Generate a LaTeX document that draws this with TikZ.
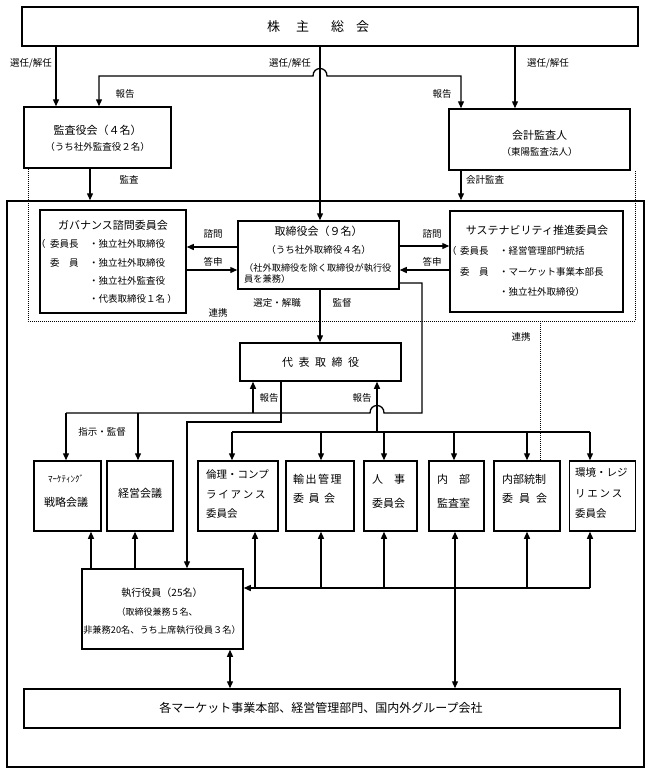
\documentclass[tikz,border=0pt]{standalone}
\usepackage{fontspec}
\setmainfont{Noto Sans CJK JP}
\usetikzlibrary{arrows.meta}
\begin{document}
\begin{tikzpicture}[x=1pt,y=-1pt,
  box/.style={draw, line width=1.5pt, inner sep=0pt},
  ln/.style={line width=1.3pt},
  arr/.style={ln, -{Triangle[length=7pt,width=6pt]}},
  darr/.style={ln, {Triangle[length=7pt,width=6pt]}-{Triangle[length=7pt,width=6pt]}},
  dline/.style={line width=1pt, dash pattern=on 1pt off 1pt},
  fs/.style={inner sep=0pt, font=\fontsize{#1}{#1}\selectfont},
  wfs/.style={fs=#1, anchor=west}
]
\useasboundingbox (0,0) rectangle (648,774);

% boxes
\node[box, minimum width=637pt, minimum height=566pt] (outer) at (325.5,484) {};
\node[box, minimum width=616pt, minimum height=39pt] (top) at (330,26.5) {};
\node[box, minimum width=147pt, minimum height=61pt] (kansa) at (97.5,137.5) {};
\node[box, minimum width=181pt, minimum height=61pt] (kaikei) at (539.5,139.5) {};
\node[box, minimum width=146pt, minimum height=103pt] (gov) at (113,261.5) {};
\node[box, minimum width=161pt, minimum height=68pt] (board) at (318.5,255) {};
\node[box, minimum width=173pt, minimum height=101pt] (sus) at (536.5,261.5) {};
\node[box, minimum width=161pt, minimum height=38pt] (daihyo) at (320.5,362) {};
\node[box, minimum width=67pt, minimum height=70pt] (mkt) at (67.5,496) {};
\node[box, minimum width=66pt, minimum height=70pt] (keiei) at (140,496) {};
\node[box, minimum width=80pt, minimum height=70pt] (rinri) at (238,496) {};
\node[box, minimum width=68pt, minimum height=70pt] (yushutsu) at (320,496) {};
\node[box, minimum width=53pt, minimum height=70pt] (jinji) at (390.5,496) {};
\node[box, minimum width=55pt, minimum height=70pt] (naibu) at (456.5,496) {};
\node[box, minimum width=66pt, minimum height=70pt] (tousei) at (527,496) {};
\node[box, minimum width=66pt, minimum height=70pt] (kankyo) at (602.5,496) {};
\node[box, minimum width=161pt, minimum height=80pt] (shikko) at (162.5,609) {};
\node[box, minimum width=596pt, minimum height=39pt] (bottom) at (322,708.5) {};

% box texts
\node[wfs=13] (toptxt) at (267,27) {株\kern16pt 主\kern22pt 総\kern12pt 会};
\node[fs=11] (kansa1) at (97.5,130) {監査役会（４名）};
\node[fs=9.5] (kansa2) at (97.5,147) {（うち社外監査役２名）};
\node[fs=11] (kaikei1) at (539.5,135) {会計監査人};
\node[fs=9.5] (kaikei2) at (539.5,152) {（東陽監査法人）};

\node[fs=11] (gov0) at (113,225) {ガバナンス諮問委員会};
\node[wfs=9.5] (gov1a) at (36,244) {（};
\node[wfs=9.5] (gov1b) at (50,244) {委員長};
\node[wfs=9.5] (gov1c) at (89,244) {・独立社外取締役};
\node[wfs=9.5] (gov2b) at (50,263) {委　員};
\node[wfs=9.5] (gov2c) at (89,263) {・独立社外取締役};
\node[wfs=9.5] (gov3c) at (89,281) {・独立社外監査役};
\node[wfs=9.5] (gov4c) at (89,299) {・代表取締役１名 ）};

\node[fs=11] (board0) at (318.5,231) {取締役会（９名）};
\node[fs=9.5] (board1) at (318.5,250) {（うち社外取締役４名）};
\node[wfs=9.2] (board2) at (244,268) {（社外取締役を除く取締役が執行役};
\node[wfs=9.2] (board3) at (244,279) {員を兼務）};

\node[fs=11] (sus0) at (537,230) {サステナビリティ推進委員会};
\node[wfs=9.5] (sus1a) at (447,251) {（};
\node[wfs=9.5] (sus1b) at (460,251) {委員長};
\node[wfs=9.5] (sus1c) at (499,251) {・経営管理部門統括};
\node[wfs=9.5] (sus2b) at (460,272) {委　員};
\node[wfs=9.5] (sus2c) at (499,272) {・マーケット事業本部長};
\node[wfs=9.5] (sus3c) at (499,292) {・独立社外取締役）};

\node[fs=11] (daihyotxt) at (320.5,362) {代\kern5.5pt 表\kern5.5pt 取\kern5.5pt 締\kern5.5pt 役};

\node[fs=9] (mkt1) at (66,479) {ﾏｰｹﾃｨﾝｸﾞ};
\node[fs=11] (mkt2) at (66,502) {戦略会議};
\node[fs=11] (keiei1) at (140,493) {経営会議};
\node[wfs=10.5] (rinri1) at (206,475) {倫理・コンプ};
\node[wfs=10.5] (rinri2) at (206,495) {ラ\,イ\,ア\,ン\,ス};
\node[wfs=10.5] (rinri3) at (206,514) {委員会};
\node[wfs=11] (yu1) at (293,479) {輸\kern1.5pt 出\kern1.5pt 管\kern1.5pt 理};
\node[wfs=11] (yu2) at (293,498) {委\kern4.5pt 員\kern4.5pt 会};
\node[wfs=11] (ji1) at (372,479) {人　事};
\node[wfs=11] (ji2) at (372,503) {委員会};
\node[wfs=11] (na1) at (437,479) {内　部};
\node[wfs=11] (na2) at (437,503) {監査室};
\node[wfs=11] (to1) at (502,479) {内部統制};
\node[wfs=11] (to2) at (502,498) {委\kern6pt 員\kern6pt 会};
\node[wfs=10.5] (ka1) at (575,473) {環境・レジ};
\node[wfs=10.5] (ka2) at (575,494) {リ\,エ\,ン\,ス};
\node[wfs=10.5] (ka3) at (575,514) {委員会};

\node[fs=10] (sh1) at (162,593) {執行役員（25名）};
\node[fs=9] (sh2) at (157,612) {（取締役兼務５名、};
\node[fs=9.2] (sh3) at (162,630) {非兼務20名、うち上席執行役員３名）};
\node[fs=12] (bottomtxt) at (321,708) {各マーケット事業本部、経営管理部門、国内外グループ会社};

% labels
\node[fs=9.5] (l1) at (31,63) {選任/解任};
\node[fs=9.5] (l2) at (290,63) {選任/解任};
\node[fs=9.5] (l3) at (548,63) {選任/解任};
\node[fs=9.5] (l4) at (125,94) {報告};
\node[fs=9.5] (l5) at (442,94) {報告};
\node[fs=9.5] (l6) at (129,180) {監査};
\node[fs=9.5] (l7) at (485,180) {会計監査};
\node[fs=9.5] (l8) at (213,234) {諮問};
\node[fs=9.5] (l9) at (213,262) {答申};
\node[fs=9.5] (l10) at (432,234) {諮問};
\node[fs=9.5] (l11) at (432,262) {答申};
\node[fs=9.5] (l12) at (277,303) {選定・解職};
\node[fs=9.5] (l13) at (342,303) {監督};
\node[fs=9.5] (l14) at (218,313) {連携};
\node[fs=9.5] (l15) at (521,337) {連携};
\node[fs=9.5] (l16) at (269,398) {報告};
\node[fs=9.5] (l17) at (362,398) {報告};
\node[fs=9.5] (l18) at (102,432) {指示・監督};

% connectors: shareholders
\draw[arr] (56,0 |- top.south) -- (56,0 |- kansa.north);
\draw[arr] (515,0 |- top.south) -- (515,0 |- kaikei.north);
\draw[arr] (320,0 |- top.south) -- (320,0 |- board.north);
\draw[darr] (99,0 |- kansa.north) -- (99,76) -- (313,76) .. controls (313,66) and (327,66) .. (327,76) -- (461,76) -- (461,0 |- kaikei.north);
\draw[arr] (90,0 |- kansa.south) -- (90,0 |- outer.north);
\draw[arr] (461,0 |- kaikei.south) -- (461,0 |- outer.north);

% dotted cooperation
\draw[dline] (28,0 |- kansa.south) -- (28,321) -- (635,321) -- (635,0 |- kaikei.south);
\draw[dline] (540,321) -- (540,0 |- tousei.north);

% board and committees
\draw[arr] (board.west |- 0,247) -- (gov.east |- 0,247);
\draw[arr] (gov.east |- 0,270) -- (board.west |- 0,270);
\draw[arr] (board.east |- 0,246) -- (sus.west |- 0,246);
\draw[arr] (sus.west |- 0,270) -- (board.east |- 0,270);
\draw[arr] (320,0 |- board.south) -- (320,0 |- daihyo.north);

% supervision line
\draw[ln] (board.east |- 0,283) -- (422,283) -- (422,413) -- (384,413) .. controls (384,403) and (370,403) .. (370,413) -- (66,413);
\draw[arr] (66,413) -- (66,0 |- mkt.north);
\draw[arr] (138,413) -- (138,0 |- keiei.north);
\draw[arr] (253,413) -- (253,0 |- daihyo.south);

% representative director to executive officers
\draw[arr] (281,0 |- daihyo.south) -- (281,422) -- (187,422) -- (187,0 |- shikko.north);

% distribution to committees
\draw[ln] (232,432) -- (590,432);
\draw[arr] (377,432) -- (377,0 |- daihyo.south);
\foreach \xx in {232,321,384,454,527,590}
  \draw[arr] (\xx,432) -- (\xx,0 |- rinri.north);

% executive officers to meetings
\draw[arr] (91,0 |- shikko.north) -- (91,0 |- mkt.south);
\draw[arr] (135,0 |- shikko.north) -- (135,0 |- keiei.south);

% committees line
\draw[arr] (590,588) -- (shikko.east |- 0,588);
\foreach \xx in {255,321,384,527,590}
  \draw[arr] (\xx,588) -- (\xx,0 |- rinri.south);
\draw[darr] (455,0 |- naibu.south) -- (455,0 |- bottom.north);
\draw[darr] (230,0 |- shikko.south) -- (230,0 |- bottom.north);
\end{tikzpicture}
\end{document}
